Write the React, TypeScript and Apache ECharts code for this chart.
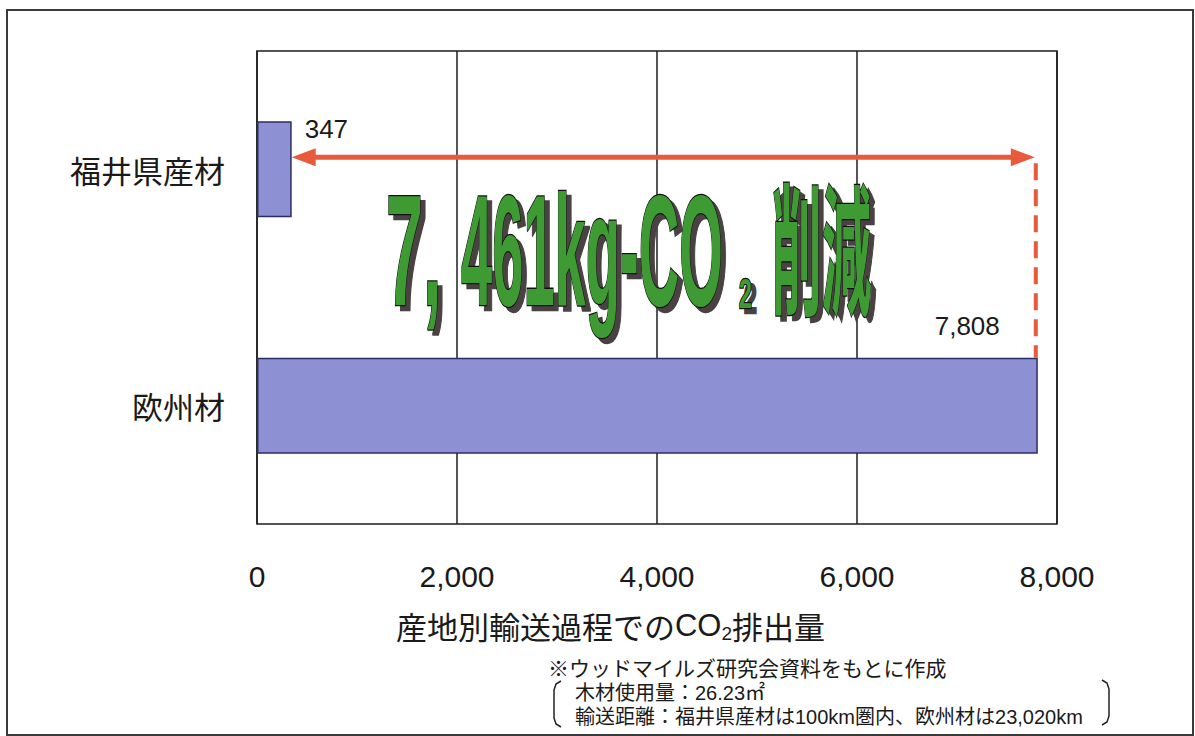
import React, { useEffect, useRef } from 'react';
import * as echarts from 'echarts';

// ---- data ----
const categories = ['福井県産材', '欧州材'];
const emissions = [347, 7808];
const axisMin = 0;
const axisMax = 8000;
const axisInterval = 2000;
const axisTitleParts = ['産地別輸送過程での', 'CO', '2', '排出量'];
const reductionParts = ['7,', '461kg-CO', '2', '削減'];
const noteLines = [
  '※ウッドマイルズ研究会資料をもとに作成',
  '木材使用量：26.23㎡',
  '輸送距離：福井県産材は100km圏内、欧州材は23,020km',
];

const fontLatin = "'Liberation Sans', 'Noto Sans CJK JP', sans-serif";
const fontCJK = "'Noto Sans CJK JP', 'Liberation Sans', sans-serif";
const RED = '#e85a3c';

export default function App() {
  const ref = useRef<HTMLDivElement>(null);

  useEffect(() => {
    const chart = echarts.init(ref.current!, null, { renderer: 'svg' });
    const labelConfigs = [
      {
        show: true,
        position: ['100%', '0%'],
        align: 'left',
        verticalAlign: 'top',
        offset: [13, -5],
      },
      {
        show: true,
        position: ['100%', '0%'],
        align: 'right',
        verticalAlign: 'bottom',
        offset: [-38, -19],
      },
    ];
    chart.setOption({
      animation: false,
      backgroundColor: '#ffffff',
      grid: {
        left: 257,
        right: 138,
        top: 51,
        bottom: 212,
        show: true,
        borderColor: '#1e1e1e',
        borderWidth: 1.5,
      },
      xAxis: {
        type: 'value',
        min: axisMin,
        max: axisMax,
        interval: axisInterval,
        axisLine: { show: false },
        axisTick: { show: false },
        splitLine: { lineStyle: { color: '#1e1e1e', width: 1.5 } },
        axisLabel: {
          fontSize: 30,
          color: '#1a1a1a',
          fontFamily: fontLatin,
          margin: 37,
          formatter: (v: number) => v.toLocaleString('en-US'),
        },
      },
      yAxis: {
        type: 'category',
        data: categories,
        inverse: true,
        axisLine: { show: false },
        axisTick: { show: false },
        axisLabel: {
          fontSize: 31,
          color: '#1a1a1a',
          fontFamily: fontCJK,
          margin: 32,
        },
      },
      series: [
        {
          type: 'bar',
          barWidth: 96,
          data: emissions.map((v, i) => ({ value: v, label: labelConfigs[i] })),
          itemStyle: { color: '#8d90d3', borderColor: '#2b2e66', borderWidth: 1.5 },
          label: {
            show: true,
            fontSize: 26,
            color: '#1a1a1a',
            fontFamily: fontLatin,
            formatter: (p: any) => Number(p.value).toLocaleString('en-US'),
          },
        },
      ],
    });

    const px = (v: number) => chart.convertToPixel({ xAxisIndex: 0 }, v) as number;
    const py = (c: string) => chart.convertToPixel({ yAxisIndex: 0 }, c) as number;
    const xStart = px(emissions[0]);
    const xEnd = px(emissions[1]);
    const yArrow = py(categories[0]) - 12;
    const barTop = py(categories[1]) - 48;

    const bigText = (text: string, x: number, y: number, size: number, family: string, sx: number) => {
      const base = {
        text,
        fontSize: size,
        fontWeight: 'bold',
        fontFamily: family,
        align: 'left',
        verticalAlign: 'middle',
      };
      return [
        {
          type: 'text',
          x: x + 5,
          y: y + 5,
          scaleX: sx,
          z: 20,
          style: { ...base, fill: '#4a4242', stroke: '#4a4242', lineWidth: 2.5 },
        },
        {
          type: 'text',
          x,
          y,
          scaleX: sx,
          z: 21,
          style: { ...base, fill: '#3e9a32', stroke: '#111111', lineWidth: 2.5 },
        },
      ];
    };

    const note = (text: string, x: number, y: number, size: number) => ({
      type: 'text',
      x,
      y,
      z: 10,
      style: {
        text,
        fontSize: size,
        lineHeight: size,
        fontFamily: fontLatin,
        fill: '#1a1a1a',
        align: 'left',
        verticalAlign: 'middle',
      },
    });

    chart.setOption({
      graphic: [
        {
          type: 'rect',
          shape: { x: 7, y: 10, width: 1186, height: 725 },
          style: { fill: 'none', stroke: '#3a3a3a', lineWidth: 2 },
          z: 1,
        },
        {
          type: 'line',
          shape: { x1: xStart + 18, y1: yArrow, x2: xEnd - 20, y2: yArrow },
          style: { stroke: RED, lineWidth: 5 },
          z: 10,
        },
        {
          type: 'polygon',
          shape: { points: [[xStart, yArrow], [xStart + 24, yArrow - 9], [xStart + 24, yArrow + 9]] },
          style: { fill: RED },
          z: 10,
        },
        {
          type: 'polygon',
          shape: { points: [[xEnd - 3, yArrow], [xEnd - 27, yArrow - 9], [xEnd - 27, yArrow + 9]] },
          style: { fill: RED },
          z: 10,
        },
        {
          type: 'line',
          shape: { x1: xEnd - 2, y1: yArrow + 6, x2: xEnd - 2, y2: barTop },
          style: { stroke: RED, lineWidth: 4, lineDash: [17, 9] },
          z: 10,
        },
        ...bigText(reductionParts[0], 386, 250, 158, fontLatin, 0.42),
        ...bigText(reductionParts[1], 461, 250, 158, fontLatin, 0.355),
        ...bigText(reductionParts[2], 739, 293, 42, fontLatin, 0.55),
        ...bigText(reductionParts[3], 772, 243, 142, fontCJK, 0.35),
        {
          type: 'text',
          x: 396,
          y: 625,
          z: 10,
          style: {
            text: `{a|${axisTitleParts[0]}}{b|${axisTitleParts[1]}}{s|${axisTitleParts[2]}}{a|${axisTitleParts[3]}}`,
            align: 'left',
            verticalAlign: 'middle',
            fill: '#1a1a1a',
            rich: {
              a: { fontSize: 31, fontFamily: fontCJK, fill: '#1a1a1a', lineHeight: 36 },
              b: { fontSize: 31, fontFamily: fontLatin, fill: '#1a1a1a', lineHeight: 36 },
              s: { fontSize: 19, fontFamily: fontLatin, fill: '#1a1a1a', lineHeight: 36, padding: [16, 0, 0, 0] },
            },
          },
        },
        note(noteLines[0], 548, 668, 21),
        note(noteLines[1], 575, 693, 20),
        note(noteLines[2], 575, 717, 20),
        {
          type: 'polyline',
          shape: { points: [[561, 681], [556, 684], [554, 690], [554, 718], [556, 724], [561, 727]] },
          style: { stroke: '#222', lineWidth: 1.5, fill: 'none' },
          z: 10,
        },
        {
          type: 'polyline',
          shape: { points: [[1102, 680], [1107, 683], [1109, 689], [1109, 716], [1107, 722], [1102, 725]] },
          style: { stroke: '#222', lineWidth: 1.5, fill: 'none' },
          z: 10,
        },
      ],
    });

    return () => chart.dispose();
  }, []);

  return (
    <div
      ref={ref}
      style={{ position: 'fixed', left: 0, top: 0, width: 1195, height: 736, background: '#fff' }}
    />
  );
}
